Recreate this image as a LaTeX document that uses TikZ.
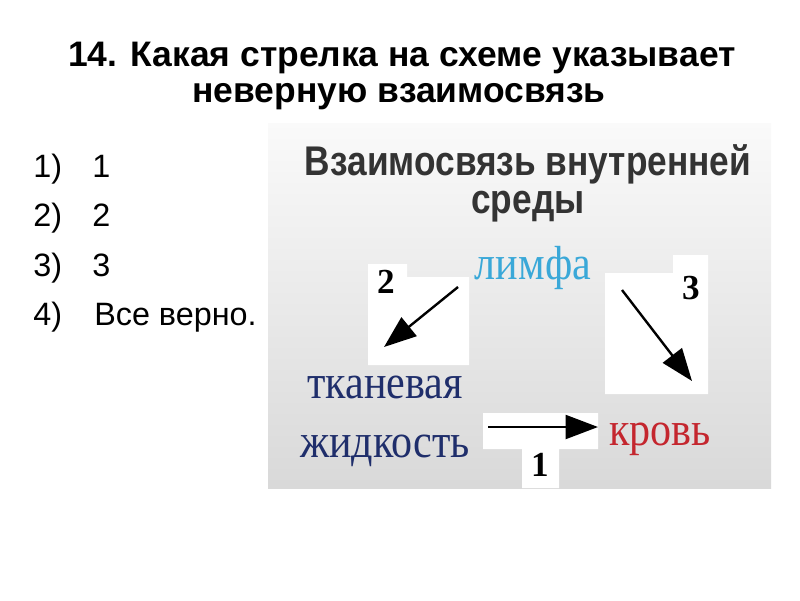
\documentclass[tikz,border=0pt]{standalone}
\usepackage{fontspec}
\setmainfont{Liberation Serif}
\newfontfamily\headfont{Liberation Sans}
\newfontfamily\panelfont[FakeStretch=0.85]{Liberation Sans}
\newfontfamily\fluidfont[FakeStretch=0.88]{Liberation Serif}
\usetikzlibrary{arrows.meta}
\definecolor{lymphblue}{HTML}{3AA8D8}
\definecolor{fluidnavy}{HTML}{1F2E6B}
\definecolor{bloodred}{HTML}{C4262E}
\definecolor{paneltext}{HTML}{333333}
\tikzset{
  question/.style={anchor=base, inner sep=0pt, font=\headfont\bfseries\fontsize{25.2}{28}\selectfont},
  answer/.style={anchor=base west, inner sep=0pt, font=\headfont\fontsize{23}{26}\selectfont},
  heading/.style={anchor=base, inner sep=0pt, align=center, text=paneltext, font=\panelfont\bfseries\fontsize{29.5}{27}\selectfont},
  fluid/.style={anchor=base, inner sep=0pt, font=\fluidfont\fontsize{34}{34}\selectfont},
  num/.style={anchor=center, inner sep=0pt, font=\bfseries\fontsize{25}{25}\selectfont},
  link/.style={line width=1.7pt, -{Triangle[length=23pt,width=17pt]}},
  white box/.style={fill=white, draw=none},
}

\begin{document}
\begin{tikzpicture}[x=0.025cm, y=-0.025cm]
  \useasboundingbox (0,0) rectangle (800,600);

  % Question
  \node[question] (q1) at (402,66) {14. Какая стрелка на схеме указывает};
  \node[question] (q2) at (399,102) {неверную взаимосвязь};

  % Answers
  \node[answer] (a1) at (33,177) {1)};
  \node[answer] (a1t) at (92,177) {1};
  \node[answer] (a2) at (33,226) {2)};
  \node[answer] (a2t) at (92,226) {2};
  \node[answer] (a3) at (33,276) {3)};
  \node[answer] (a3t) at (92,276) {3};
  \node[answer] (a4) at (33,325) {4)};
  \node[answer] (a4t) at (94,325) {Все верно.};

  % Scheme background
  \shade[top color=gray!4, bottom color=gray!30] (268,123) rectangle (771,488);

  % White patches under the arrows
  \fill[white box] (368,264) -- (407,264) -- (407,277) -- (469,277) -- (469,365) -- (368,365) -- cycle;
  \fill[white box] (605,273) -- (673,273) -- (673,255) -- (708,255) -- (708,394) -- (605,394) -- cycle;
  \fill[white box] (483,413) -- (598,413) -- (598,449) -- (559,449) -- (559,488) -- (522,488) -- (522,449) -- (483,449) -- cycle;

  % Heading
  \node[heading] (head) at (528,213) {Взаимосвязь внутренней\\среды};

  % Fluids
  \node[fluid, text=lymphblue] (lymph) at (533,279) {лимфа};
  \node[fluid, text=fluidnavy] (tissue) at (385,398) {тканевая};
  \node[fluid, text=fluidnavy] (liquid) at (385,457) {жидкость};
  \node[fluid, text=bloodred] (blood) at (660,445) {кровь};

  % Arrow ends
  \coordinate (s1) at (488,427);
  \coordinate (e1) at (598,427);
  \coordinate (s2) at (458,287);
  \coordinate (e2) at (384,347);
  \coordinate (s3) at (622,290);
  \coordinate (e3) at (692,381);

  \draw[link] (s1) -- (e1);
  \draw[link] (s2) -- (e2);
  \draw[link] (s3) -- (e3);

  % Arrow numbers
  \node[num] (n1) at (540,465) {1};
  \node[num] (n2) at (386,282) {2};
  \node[num] (n3) at (691,288) {3};

\end{tikzpicture}
\end{document}
